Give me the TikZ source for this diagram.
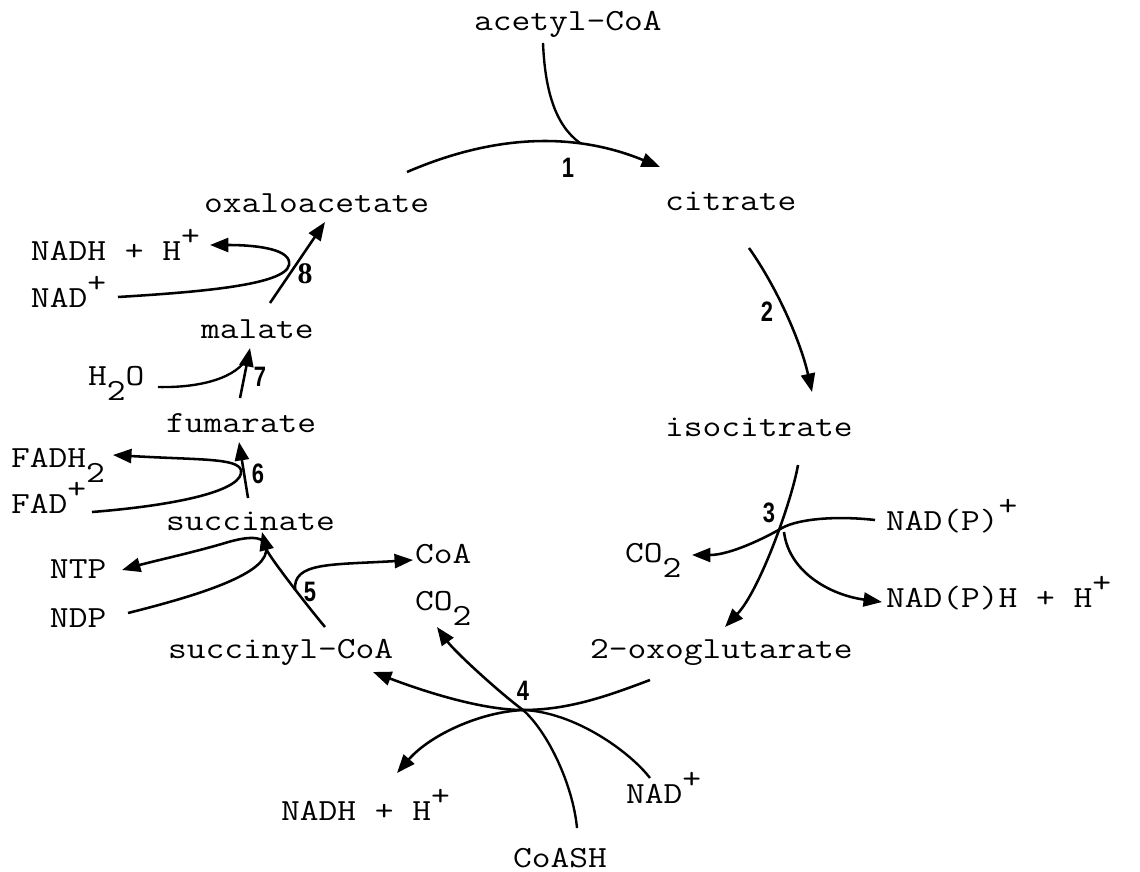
\documentclass[tikz,border=0pt]{standalone}
\usepackage{fontspec}
\usepackage{graphicx}
\usetikzlibrary{arrows.meta}
\newfontfamily\stepfont{Liberation Sans}
\newfontfamily\stepserif{Liberation Serif}
\newcommand\rsup[1]{\raisebox{0.47em}{#1}}
\newcommand\rsub[1]{\raisebox{-0.5em}{#1}}
% typewriter labels, widened slightly to a Courier-like pitch
\newcommand\chem[1]{\scalebox{1.185}[1]{#1}}
\tikzset{
  chem/.style={font=\ttfamily\fontsize{17.5}{20}\selectfont, inner sep=0pt, outer sep=0pt, anchor=base west},
  stepno/.style={font=\stepfont\bfseries\fontsize{16}{18}\selectfont, inner sep=0pt},
  flow/.style={line width=1.45pt, -{Triangle[length=10.5pt,width=8pt]}},
  feed/.style={line width=1.35pt},
}
\begin{document}
\begin{tikzpicture}[x=0.02cm,y=-0.02cm]
\useasboundingbox (0,0) rectangle (1140,872);

% cycle intermediates
\node[chem] (acetyl)  at (474,31)  {\chem{acetyl-CoA}};
\node[chem] (citrate) at (665,210) {\chem{citrate}};
\node[chem] (oxalo)   at (204,212) {\chem{oxaloacetate}};
\node[chem] (isocit)  at (665,436) {\chem{isocitrate}};
\node[chem] (oxoglu)  at (590,658) {\chem{2-oxoglutarate}};
\node[chem] (succoa)  at (168,658) {\chem{succinyl-CoA}};
\node[chem] (succ)    at (166,530) {\chem{succinate}};
\node[chem] (fum)     at (166,432) {\chem{fumarate}};
\node[chem] (mal)     at (201,338) {\chem{malate}};

% cofactors and side products
\node[chem] (nadhA)  at (31,260)  {\chem{NADH + H\rsup{+}}};
\node[chem] (nadA)   at (31,307)  {\chem{NAD\rsup{+}}};
\node[chem] (water)  at (88,385)  {\chem{H\rsub{2}O}};
\node[chem] (fadh)   at (11,467)  {\chem{FADH\rsub{2}}};
\node[chem] (fad)    at (11,513)  {\chem{FAD\rsup{+}}};
\node[chem] (ntp)    at (50,578)  {\chem{NTP}};
\node[chem] (ndp)    at (50,627)  {\chem{NDP}};
\node[chem] (coa)    at (415,563) {\chem{CoA}};
\node[chem] (co2b)   at (415,610) {\chem{CO\rsub{2}}};
\node[chem] (co2r)   at (625,562) {\chem{CO\rsub{2}}};
\node[chem] (nadpA)  at (886,530) {\chem{NAD(P)\rsup{+}}};
\node[chem] (nadph)  at (886,607) {\chem{NAD(P)H + H\rsup{+}}};
\node[chem] (nadhB)  at (281,820) {\chem{NADH + H\rsup{+}}};
\node[chem] (nadB)   at (626,803) {\chem{NAD\rsup{+}}};
\node[chem] (coash)  at (513,867) {\chem{CoASH}};

% enzyme step numbers
\node[stepno] (n1) at (568,168) {\scalebox{0.78}[1]{1}};
\node[stepno] (n2) at (767,312) {\scalebox{0.78}[1]{2}};
\node[stepno] (n3) at (769,513) {\scalebox{0.78}[1]{3}};
\node[stepno] (n4) at (523,691) {\scalebox{0.78}[1]{4}};
\node[stepno] (n5) at (310,592) {\scalebox{0.78}[1]{5}};
\node[stepno] (n6) at (258,474) {\scalebox{0.78}[1]{6}};
\node[stepno] (n7) at (260,377) {\scalebox{0.78}[1]{7}};
\node[stepno, font=\stepserif\bfseries\fontsize{17}{19}\selectfont] (n8) at (305,274) {8};

% step 1: oxaloacetate + acetyl-CoA -> citrate
\coordinate (s1) at (407,172);
\coordinate (e1) at (660,167);
\coordinate (a1) at (543,43);
\coordinate (j1) at (580,143);
\draw[flow] (s1) .. controls (495,134) and (575,132) .. (e1);
\draw[feed] (a1) .. controls (545,90) and (555,125) .. (j1);

% step 2: citrate -> isocitrate
\coordinate (s2) at (749,248);
\coordinate (e2) at (812,392);
\draw[flow] (s2) .. controls (778,289) and (801,343) .. (e2);

% step 3: isocitrate -> 2-oxoglutarate
\coordinate (s3) at (798,465);
\coordinate (e3) at (725,627);
\coordinate (j3) at (782,528);
\coordinate (j3b) at (784,532);
\coordinate (p3) at (875,520);
\coordinate (c3) at (692,555);
\coordinate (h3) at (882,602);
\draw[flow] (s3) .. controls (792,500) and (760,590) .. (e3);
\draw[flow] (p3) .. controls (840,516) and (800,518) .. (j3)
            .. controls (765,538) and (730,555) .. (c3);
\draw[flow] (j3b) .. controls (789,572) and (830,595) .. (h3);

% step 4: 2-oxoglutarate -> succinyl-CoA
\coordinate (s4) at (650,680);
\coordinate (j4) at (523,710);
\coordinate (e4) at (373,672);
\coordinate (c4) at (437,627);
\coordinate (k4) at (577,828);
\coordinate (d4) at (650,778);
\coordinate (h4) at (397,773);
\draw[flow] (s4) .. controls (610,695) and (570,710) .. (j4)
            .. controls (480,710) and (420,690) .. (e4);
\draw[flow] (j4) .. controls (500,693) and (455,652) .. (c4);
\draw[feed] (k4) .. controls (573,785) and (548,732) .. (j4);
\draw[feed] (d4) .. controls (630,752) and (575,712) .. (j4);
\draw[flow] (j4) .. controls (480,712) and (430,735) .. (h4);

% step 5: succinyl-CoA -> succinate
\coordinate (s5) at (325,627);
\coordinate (e5) at (262,532);
\coordinate (j5) at (295,590);
\coordinate (c5) at (413,560);
\coordinate (d5) at (128,613);
\coordinate (t5) at (266,552);
\coordinate (u5) at (225,543);
\coordinate (n5e) at (122,570);
\draw[flow] (s5) .. controls (305,603) and (268,555) .. (e5);
\draw[flow] (j5) .. controls (293,562) and (330,565) .. (c5);
\draw[flow] (d5) .. controls (200,595) and (262,575) .. (t5)
            .. controls (269,534) and (248,536) .. (u5)
            .. controls (195,552) and (150,562) .. (n5e);

% step 6: succinate -> fumarate
\coordinate (s6) at (248,498);
\coordinate (e6) at (239,442);
\coordinate (f6) at (92,512);
\coordinate (t6) at (241,470);
\coordinate (h6) at (113,455);
\draw[flow] (s6) -- (e6);
\draw[flow] (f6) .. controls (180,505) and (245,490) .. (t6)
            .. controls (237,458) and (200,460) .. (h6);

% step 7: fumarate -> malate
\coordinate (s7) at (240,398);
\coordinate (e7) at (250,348);
\coordinate (w7) at (158,387);
\coordinate (j7) at (248,356);
\draw[flow] (s7) -- (e7);
\draw[feed] (w7) .. controls (200,388) and (238,378) .. (j7);

% step 8: malate -> oxaloacetate
\coordinate (s8) at (270,303);
\coordinate (e8) at (325,222);
\coordinate (d8) at (118,297);
\coordinate (t8) at (289,265);
\coordinate (h8) at (210,245);
\draw[flow] (s8) -- (e8);
\draw[flow] (d8) .. controls (200,292) and (285,285) .. (t8)
            .. controls (292,250) and (260,245) .. (h8);
\end{tikzpicture}
\end{document}
